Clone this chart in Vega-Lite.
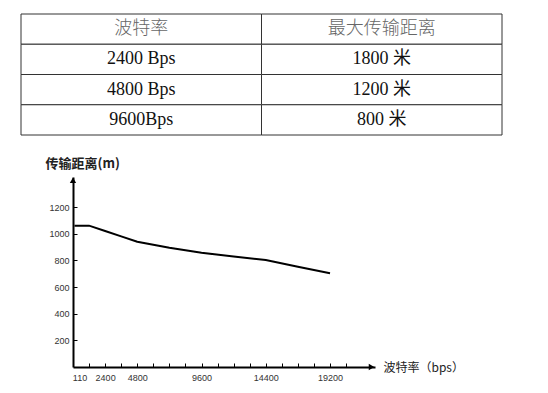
{
  "$schema": "https://vega.github.io/schema/vega-lite/v6.json",
  "background": "white",
  "padding": {"left": 20, "top": 13, "right": 5, "bottom": 5},
  "datasets": {
    "table": [
      {"r": 0, "col": "c1", "label": "波特率", "kind": "header"},
      {"r": 0, "col": "c2", "label": "最大传输距离", "kind": "header"},
      {"r": 1, "col": "c1", "label": "2400 Bps", "kind": "body"},
      {"r": 1, "col": "c2", "label": "1800 米", "kind": "body"},
      {"r": 2, "col": "c1", "label": "4800 Bps", "kind": "body"},
      {"r": 2, "col": "c2", "label": "1200 米", "kind": "body"},
      {"r": 3, "col": "c1", "label": "9600Bps", "kind": "body"},
      {"r": 3, "col": "c2", "label": "800 米", "kind": "body"}
    ],
    "curve": [
      {"baud": 110, "dist": 1060},
      {"baud": 1200, "dist": 1060},
      {"baud": 2400, "dist": 1020},
      {"baud": 3600, "dist": 980},
      {"baud": 4800, "dist": 940},
      {"baud": 7200, "dist": 895},
      {"baud": 9600, "dist": 857},
      {"baud": 12000, "dist": 828},
      {"baud": 14400, "dist": 802},
      {"baud": 16800, "dist": 752},
      {"baud": 19200, "dist": 703}
    ]
  },
  "spacing": 21,
  "vconcat": [
    {
      "width": 429,
      "height": 121,
      "data": {"name": "table"},
      "encoding": {
        "x": {"field": "col", "type": "nominal", "axis": null, "scale": {"range": [-52, 429], "paddingInner": 0, "paddingOuter": 0}},
        "y": {"field": "r", "type": "ordinal", "axis": null, "scale": {"paddingInner": 0, "paddingOuter": 0}}
      },
      "layer": [
        {"mark": {"type": "rect", "fill": "white", "stroke": "#333", "strokeWidth": 1}},
        {
          "transform": [{"filter": "datum.kind === 'header'"}],
          "mark": {"type": "text", "font": "Noto Sans CJK SC", "fontSize": 18, "fontWeight": 300, "color": "#666"},
          "encoding": {"text": {"field": "label"}}
        },
        {
          "transform": [{"filter": "datum.kind === 'body'"}],
          "mark": {"type": "text", "font": "Liberation Serif, Noto Sans CJK SC", "fontSize": 18, "color": "#111"},
          "encoding": {"text": {"field": "label"}}
        }
      ]
    },
    {
      "width": 302,
      "height": 190,
      "layer": [
        {
          "data": {"name": "curve"},
          "mark": {"type": "line", "color": "black", "strokeWidth": 2},
          "encoding": {
            "x": {
              "field": "baud", "type": "quantitative",
              "scale": {"domain": [0, 22560], "nice": false, "zero": false},
              "axis": {
                "title": "波特率（bps）",
                "values": [110, 1200, 2400, 3600, 4800, 6000, 7200, 8400, 9600, 10800, 12000, 13200, 14400, 15600, 16800, 18000, 19200, 20400],
                "tickCount": 50,
                "labelExpr": "indexof([110,2400,4800,9600,14400,19200], datum.value) >= 0 ? '' + datum.value : ''",
                "tickSize": -4,
                "labelPadding": 10,
                "labelFlush": false,
                "labelOverlap": false,
                "labelOffset": {"condition": {"test": "datum.value === 110", "value": 5}, "value": 0},
                "tickOpacity": {"condition": {"test": "datum.value === 110", "value": 0}, "value": 1},
                "titleX": 310,
                "titleY": 0,
                "titleAlign": "left",
                "titleBaseline": "middle",
                "titleFont": "Noto Sans CJK SC",
                "titleFontSize": 12,
                "titleFontWeight": "normal",
                "titleColor": "#222"
              }
            },
            "y": {
              "field": "dist", "type": "quantitative",
              "scale": {"domain": [0, 1425], "nice": false, "zero": false},
              "axis": {
                "title": "传输距离(m)",
                "values": [200, 400, 600, 800, 1000, 1200],
                "tickCount": 50,
                "format": "d",
                "tickSize": -4,
                "labelPadding": 8,
                "labelOverlap": false,
                "titleAngle": 0,
                "titleX": -28,
                "titleY": -14,
                "titleAlign": "left",
                "titleBaseline": "middle",
                "titleFont": "Noto Sans CJK SC",
                "titleFontSize": 13,
                "titleFontWeight": "bold",
                "titleColor": "#222"
              }
            }
          }
        },
        {
          "data": {"values": [{}]},
          "mark": {"type": "point", "shape": "triangle-up", "filled": true, "color": "black", "size": 40, "opacity": 1},
          "encoding": {
            "x": {"datum": 0, "type": "quantitative"},
            "y": {"datum": 1400, "type": "quantitative"}
          }
        },
        {
          "data": {"values": [{}]},
          "mark": {"type": "point", "shape": "triangle-right", "filled": true, "color": "black", "size": 40, "opacity": 1},
          "encoding": {
            "x": {"datum": 22300, "type": "quantitative"},
            "y": {"datum": 0, "type": "quantitative"}
          }
        }
      ]
    }
  ],
  "config": {
    "view": {"stroke": null},
    "axis": {
      "grid": false,
      "labelOverlap": false,
      "labelFlush": false,
      "domainColor": "black",
      "domainWidth": 2,
      "tickColor": "black",
      "tickWidth": 1,
      "labelFont": "Liberation Sans",
      "labelFontSize": 9,
      "labelColor": "#333"
    }
  }
}
